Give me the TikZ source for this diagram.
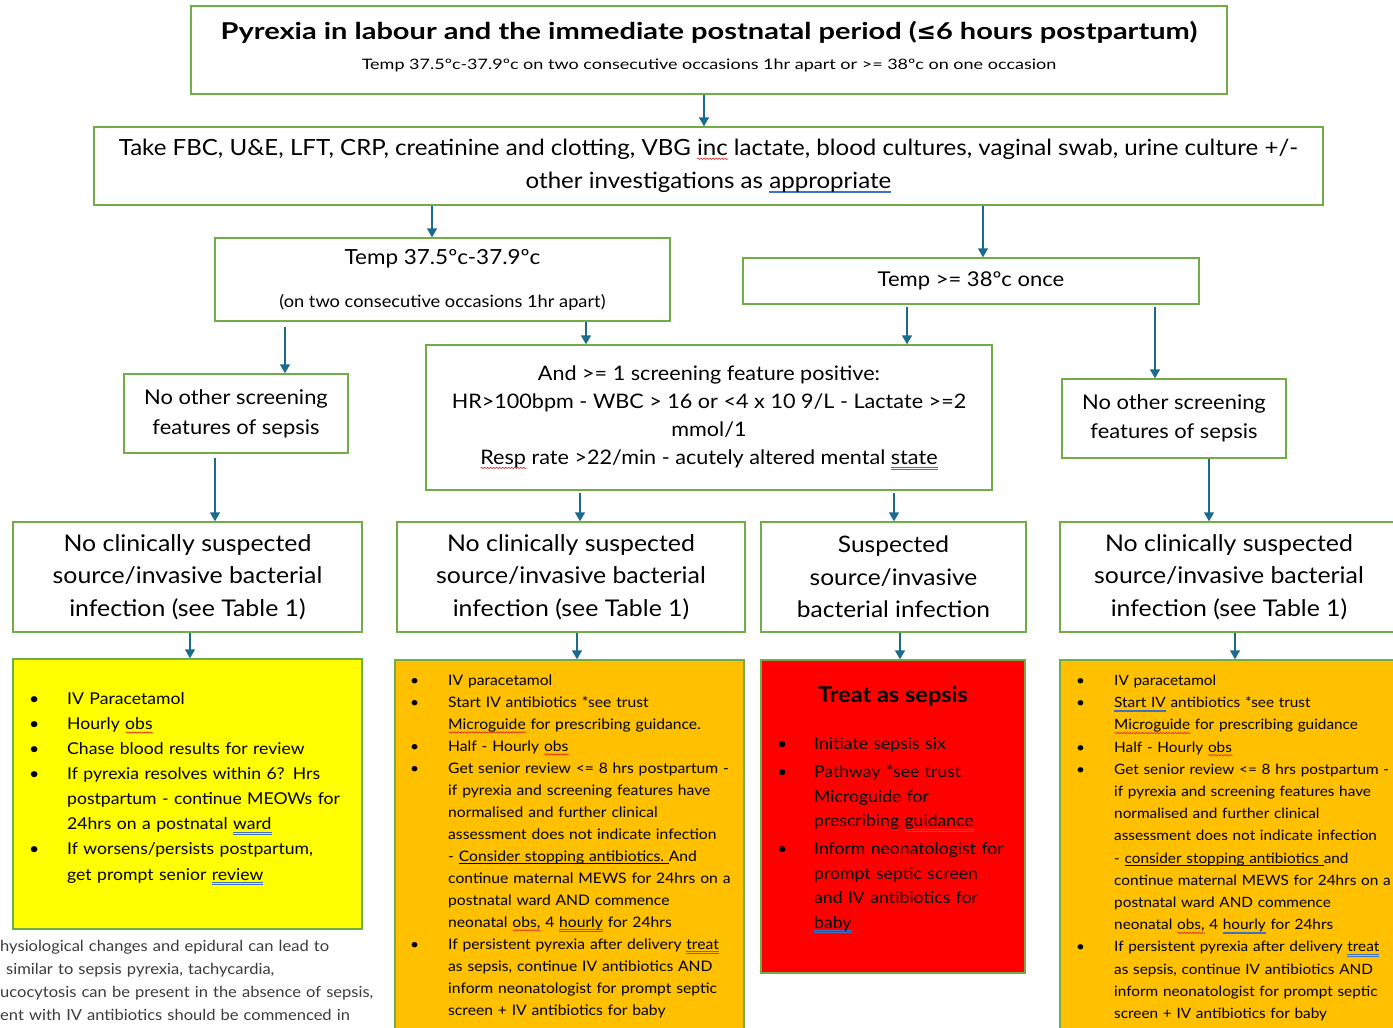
\documentclass[tikz,border=0pt]{standalone}
\usepackage{fontspec}
\setmainfont{Lato}[FakeStretch=1.08]
\newfontfamily\titlefont{Lato}[FakeStretch=1.25]
\newfontfamily\symfont{DejaVu Sans}
\usetikzlibrary{arrows.meta,decorations.pathmorphing}
\definecolor{boxgreen}{HTML}{70AD47}
\definecolor{arrowblue}{HTML}{1B6B8F}
\definecolor{yellowc}{HTML}{FFFF00}
\definecolor{orangec}{HTML}{FFC000}
\definecolor{redc}{HTML}{FF0000}
\definecolor{spellred}{HTML}{E02020}
\definecolor{gramblue}{HTML}{3F6FC6}
\definecolor{notegray}{HTML}{3C3C3C}
\newsavebox\ulbox
\newcommand\rwave[1]{\leavevmode\sbox\ulbox{#1}\rlap{\tikz[baseline=0pt]\draw[spellred,line width=0.6pt,decorate,decoration={snake,amplitude=0.7pt,segment length=3pt}] (0pt,-3.2pt) -- (\the\wd\ulbox,-3.2pt);}\usebox\ulbox}
\newcommand\bdouble[1]{\leavevmode\sbox\ulbox{#1}\rlap{\textcolor{gramblue}{\rule[-2.6pt]{\wd\ulbox}{0.5pt}}}\rlap{\textcolor{gramblue}{\rule[-4.3pt]{\wd\ulbox}{0.5pt}}}\usebox\ulbox}
\newcommand\myuline[1]{\leavevmode\sbox\ulbox{#1}\rlap{\rule[-2.8pt]{\wd\ulbox}{0.6pt}}\usebox\ulbox}
\newenvironment{blist}[1]{\begin{list}{\textbullet}{\setlength\leftmargin{#1}\setlength\labelwidth{#1}\setlength\labelsep{0pt}\setlength\itemsep{0pt}\setlength\parsep{0pt}\setlength\topsep{0pt}\setlength\partopsep{0pt}\setlength\itemindent{0pt}\renewcommand\makelabel[1]{##1\hfil}}\raggedright}{\end{list}}
\begin{document}
\begin{tikzpicture}[x=1pt,y=-1pt,
  box/.style={draw=boxgreen, line width=1.4pt, inner sep=0pt, align=center, text=black},
  listtext/.style={inner sep=0pt, anchor=north west, align=left, text=black},
  arr/.style={draw=arrowblue, line width=1.4pt, -{Triangle[width=10pt,length=9pt]}}]
\useasboundingbox (0,0) rectangle (1393,1028);
\clip (0,0) rectangle (1393,1028);
\fill[white] (0,0) rectangle (1393,1028);

% top boxes
\node[box, minimum width=1036pt, minimum height=88pt] (title) at (709,50) {};
\node[inner sep=0pt, align=center, font=\titlefont\fontsize{14.4}{29.5}\selectfont] (titletxt) at (709,46.5)
 {{\fontsize{23.2}{28}\selectfont\bfseries Pyrexia in labour and the immediate postnatal period ({\symfont\bfseries ≤}6 hours postpartum)}\\
  Temp 37.5ºc-37.9ºc on two consecutive occasions 1hr apart or >= 38ºc on one occasion};
\node[box, minimum width=1229pt, minimum height=78pt, font=\fontsize{22.3}{33}\selectfont] (tests) at (708.5,166)
 {Take FBC, U\&E, LFT, CRP, creatinine and clotting, VBG \rwave{inc} lactate, blood cultures, vaginal swab, urine culture +/-\\
  other investigations as \bdouble{appropriate}};
\node[box, minimum width=455pt, minimum height=83pt, font=\fontsize{16.9}{43}\selectfont] (t375) at (442.5,279.5)
 {{\fontsize{20.8}{24}\selectfont Temp 37.5ºc-37.9ºc}\\(on two consecutive occasions 1hr apart)};
\node[box, minimum width=456pt, minimum height=46pt, font=\fontsize{20.4}{24}\selectfont] (t38) at (971,281)
 {Temp >= 38ºc once};
\node[box, minimum width=566pt, minimum height=145pt, font=\fontsize{20}{28}\selectfont] (scr) at (709,417.5)
 {And >= 1 screening feature positive:\\
  HR>100bpm - WBC > 16 or <4 x 10 9/L - Lactate >=2\\
  mmol/1\\
  \rwave{Resp} rate >22/min - acutely altered mental \bdouble{state}};
\node[box, minimum width=224pt, minimum height=79pt, font=\fontsize{20.3}{30}\selectfont] (noL) at (236,413.5)
 {No other screening\\features of sepsis};
\node[box, minimum width=224pt, minimum height=79pt, font=\fontsize{20.3}{29.5}\selectfont] (noR) at (1174,418.5)
 {No other screening\\features of sepsis};

% source boxes
\node[box, minimum width=349pt, minimum height=110pt, font=\fontsize{23}{32.5}\selectfont] (ncL) at (187.5,577)
 {No clinically suspected\\source/invasive bacterial\\infection (see Table 1)};
\node[box, minimum width=348pt, minimum height=110pt, font=\fontsize{23}{32.5}\selectfont] (ncM) at (571,577)
 {No clinically suspected\\source/invasive bacterial\\infection (see Table 1)};
\node[box, minimum width=265pt, minimum height=110pt, font=\fontsize{22.7}{32.5}\selectfont] (sus) at (893.5,577)
 {Suspected\\source/invasive\\bacterial infection};
\node[box, minimum width=338pt, minimum height=110pt, font=\fontsize{23}{32.5}\selectfont] (ncR) at (1229,577)
 {No clinically suspected\\source/invasive bacterial\\infection (see Table 1)};

% action boxes
\node[box, fill=yellowc, minimum width=349pt, minimum height=270pt] (yel) at (187.5,794) {};
\node[box, fill=orangec, minimum width=349pt, minimum height=375pt] (orM) at (569.5,847.5) {};
\node[box, fill=redc, minimum width=264pt, minimum height=313pt] (red) at (893,816.5) {};
\node[box, fill=orangec, minimum width=338pt, minimum height=375pt] (orR) at (1229,847.5) {};

\node[listtext, text width=330pt, font=\fontsize{16.3}{25.1}\selectfont] (yelt) at (29,679)
 {\begin{blist}{38pt}
  \item IV Paracetamol
  \item Hourly \rwave{obs}
  \item Chase blood results for review
  \item If pyrexia resolves within 6? Hrs\newline postpartum - continue MEOWs for\newline 24hrs on a postnatal \bdouble{ward}
  \item If worsens/persists postpartum,\newline get prompt senior \bdouble{review}
 \end{blist}};

\node[listtext, text width=345pt, font=\fontsize{14.5}{22}\selectfont] (orMt) at (410,663)
 {\begin{blist}{38pt}
  \item IV paracetamol
  \item Start IV antibiotics *see trust\newline \rwave{Microguide} for prescribing guidance.
  \item Half - Hourly \rwave{obs}
  \item Get senior review <= 8 hrs postpartum -\newline if pyrexia and screening features have\newline normalised and further clinical\newline assessment does not indicate infection\newline - \myuline{Consider stopping antibiotics.\ }And\newline continue maternal MEWS for 24hrs on a\newline postnatal ward AND commence\newline neonatal \rwave{obs,} 4 \bdouble{hourly} for 24hrs
  \item If persistent pyrexia after delivery \bdouble{treat}\newline as sepsis, continue IV antibiotics AND\newline inform neonatologist for prompt septic\newline screen + IV antibiotics for baby
 \end{blist}};

\node[inner sep=0pt, font=\fontsize{21.8}{24}\selectfont\bfseries] (redh) at (893,696) {Treat as sepsis};
\node[listtext, text width=245pt, font=\fontsize{16.3}{24.5}\selectfont] (redt) at (777,725)
 {\begin{blist}{37pt}
  \item Initiate sepsis six\vspace{3.5pt}
  \item Pathway *see trust\newline Microguide for\newline prescribing \bdouble{guidance}\vspace{3.5pt}
  \item Inform neonatologist for\newline prompt septic screen\newline and IV antibiotics for\newline \bdouble{baby}
 \end{blist}};

\node[listtext, text width=345pt, font=\fontsize{14.2}{22.2}\selectfont] (orRt) at (1076,663)
 {\begin{blist}{38pt}
  \item IV paracetamol
  \item \bdouble{Start IV} antibiotics *see trust\newline \rwave{Microguide} for prescribing guidance
  \item Half - Hourly \rwave{obs}
  \item Get senior review <= 8 hrs postpartum -\newline if pyrexia and screening features have\newline normalised and further clinical\newline assessment does not indicate infection\newline - \myuline{consider stopping antibiotics\ }and\newline continue maternal MEWS for 24hrs on a\newline postnatal ward AND commence\newline neonatal \rwave{obs,} 4 \bdouble{hourly} for 24hrs
  \item If persistent pyrexia after delivery \bdouble{treat}\newline as sepsis, continue IV antibiotics AND\newline inform neonatologist for prompt septic\newline screen + IV antibiotics for baby
 \end{blist}};

% note
\node[listtext, text width=440pt, font=\fontsize{15.3}{23}\selectfont, text=notegray] (note) at (0,940)
 {hysiological changes and epidural can lead to\\
  \hspace*{6pt}similar to sepsis pyrexia, tachycardia,\\
  ucocytosis can be present in the absence of sepsis,\\
  ent with IV antibiotics should be commenced in};

% connectors
\draw[arr] ([xshift=-5pt]title.south) -- ([xshift=-4.5pt]tests.north);
\draw[arr] ([xshift=-276.5pt]tests.south) -- ([xshift=-10.5pt]t375.north);
\draw[arr] ([xshift=274.5pt]tests.south) -- ([xshift=12pt]t38.north);
\draw[arr] ([xshift=-157.5pt,yshift=-5pt]t375.south) -- ([xshift=49pt]noL.north);
\draw[arr] ([xshift=143.5pt]t375.south) -- ([xshift=-123pt]scr.north);
\draw[arr] ([xshift=-64pt,yshift=-2pt]t38.south) -- ([xshift=198pt]scr.north);
\draw[arr] ([xshift=184pt,yshift=-2pt]t38.south) -- ([xshift=-19pt]noR.north);
\draw[arr] ([xshift=-21pt,yshift=-4pt]noL.south) -- ([xshift=27.5pt]ncL.north);
\draw[arr] ([xshift=-129pt,yshift=-2pt]scr.south) -- ([xshift=9pt]ncM.north);
\draw[arr] ([xshift=185pt,yshift=-2pt]scr.south) -- ([xshift=0.5pt]sus.north);
\draw[arr] ([xshift=35pt]noR.south) -- ([xshift=-20pt]ncR.north);
\draw[arr] ([xshift=2.5pt]ncL.south) -- ([xshift=2.5pt]yel.north);
\draw[arr] ([xshift=6pt]ncM.south) -- ([xshift=7.5pt]orM.north);
\draw[arr] ([xshift=6.5pt]sus.south) -- ([xshift=7pt]red.north);
\draw[arr] ([xshift=6pt]ncR.south) -- ([xshift=6pt]orR.north);
\end{tikzpicture}
\end{document}
